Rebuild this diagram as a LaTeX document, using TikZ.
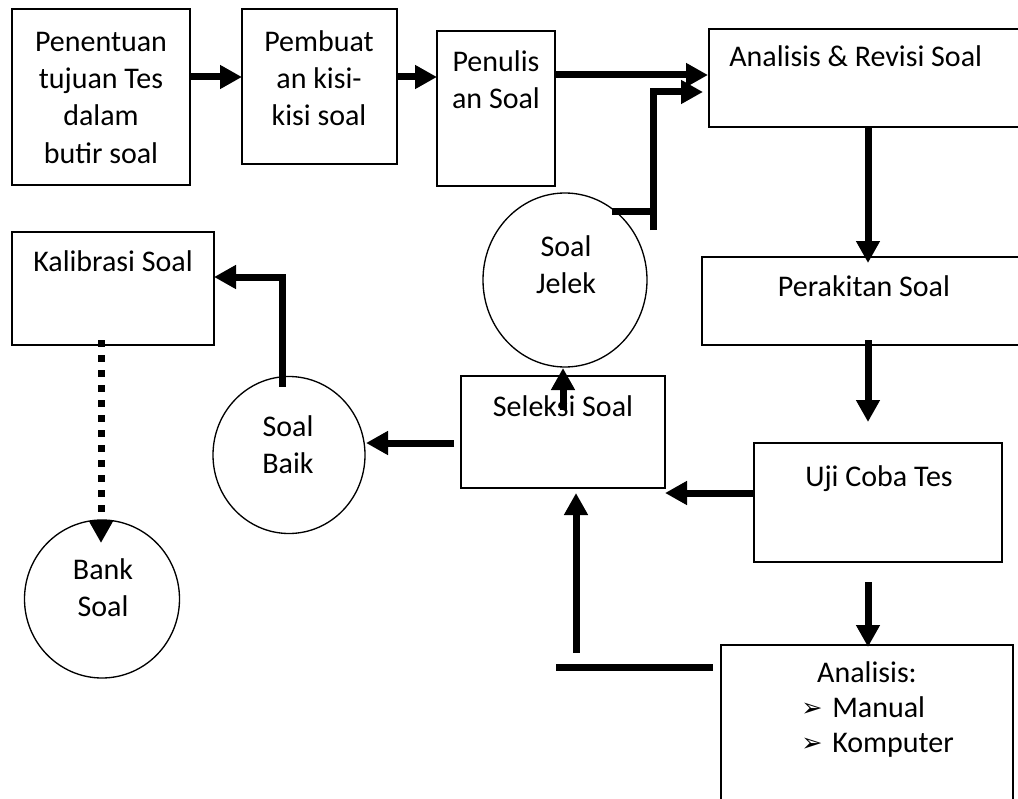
\documentclass[tikz,border=0pt]{standalone}
\usepackage{fontspec}
\setmainfont{Carlito}
\newfontfamily\dejavu{DejaVu Sans}
\usetikzlibrary{arrows.meta,calc,shapes.geometric}
\tikzset{
  box/.style={draw, line width=1pt, rectangle, inner sep=0pt, outer sep=0pt},
  oval/.style={draw, line width=1pt, ellipse, inner sep=0pt, outer sep=0pt},
  txt/.style={font=\fontsize{22.5}{28}\selectfont, align=center, inner sep=0pt, anchor=north},
  txtb/.style={font=\fontsize{22.5}{28}\selectfont, inner sep=0pt, anchor=base},
  bul/.style={font=\dejavu\fontsize{19}{20}\selectfont, inner sep=0pt, anchor=base west},
  arr/.style={line width=5.25pt, -{Triangle[length=16.5pt,width=17pt]}},
  thk/.style={line width=5.25pt},
  dotarr/.style={line width=5.25pt, dash pattern=on 5.25pt off 6pt, -{Triangle[length=16.5pt,width=17pt]}}
}
\begin{document}
\begin{tikzpicture}[x=0.75pt,y=-0.75pt]
\useasboundingbox (0,0) rectangle (1018,799);
% boxes
\node[box, minimum width=133.5pt, minimum height=132pt] (b1) at (101,97) {};
\node[box, minimum width=116.25pt, minimum height=116.25pt] (b2) at (319.5,86.5) {};
\node[box, minimum width=88.5pt, minimum height=116.25pt] (b3) at (496,108.5) {};
\node[box, minimum width=234.75pt, minimum height=73.5pt] (b4) at (865.5,78) {};
\node[box, minimum width=240pt, minimum height=66pt] (per) at (862,301) {};
\node[box, minimum width=186pt, minimum height=89.25pt] (uji) at (878,502.5) {};
\node[box, minimum width=219pt, minimum height=125.25pt] (ana) at (867,728.5) {};
\node[box, minimum width=153pt, minimum height=84pt] (sel) at (563,432) {};
\node[box, minimum width=151.5pt, minimum height=84.75pt] (kal) at (113,288.5) {};
\node[oval, minimum width=123pt, minimum height=130.5pt] (jel) at (565,280) {};
\node[oval, minimum width=114pt, minimum height=117.75pt] (baik) at (289,455) {};
\node[oval, minimum width=116.25pt, minimum height=118.5pt] (bank) at (102,599) {};
% texts
\node[txt] (t1) at (101,24.9) {\strut Penentuan\\tujuan Tes\\dalam\\butir soal};
\node[txt] (t2) at (319,24.9) {\strut Pembuat\\an kisi-\\kisi soal};
\node[txt] (t3) at (496,44.9) {\strut Penulis\\an Soal};
\node[txtb, anchor=base west] (t4) at (729,67) {Analisis \& Revisi Soal};
\node[txtb] (t5) at (864,296) {Perakitan Soal};
\node[txtb] (t6) at (879,486) {Uji Coba Tes};
\node[txtb] (t7) at (563,416) {Seleksi Soal};
\node[txtb] (t8) at (113,271) {Kalibrasi Soal};
\node[txt] (t9) at (566,229.9) {\strut Soal\\Jelek};
\node[txt] (t10) at (288,409.9) {\strut Soal\\Baik};
\node[txt] (t11) at (103,552.9) {\strut Bank\\Soal};
\node[txtb] (t12) at (867,682) {Analisis:};
\node[bul] (k1) at (801,716) {➢};
\node[txtb, anchor=base west] (t13) at (832,717) {Manual};
\node[bul] (k2) at (801,751) {➢};
\node[txtb, anchor=base west] (t14) at (832,752) {Komputer};
% connectors
\draw[arr] ($(b1.east)+(0,-20)$) -- ($(b2.west)+(0,-9.5)$);
\draw[arr] ($(b2.east)+(0,-9.5)$) -- ($(b3.west)+(0,-31.5)$);
\draw[arr] ($(b3.east)+(0,-33.5)$) -- ($(b4.west)+(-1,-3)$);
\coordinate (jt) at (653,230);
\draw[thk] ($(jel.center)+(47,-69)$) -- (656.5,211);
\draw[arr] (jt) -- (653,92) -- ($(b4.west)+(-6,14)$);
\draw[arr] ($(b4.south)+(2.5,0)$) -- ($(per.north)+(6,6)$);
\draw[arr] ($(per.south)+(6,-5)$) -- ($(uji.north)+(-10,-21)$);
\draw[arr] ($(uji.south)+(-10,20)$) -- ($(ana.north)+(1,2)$);
\draw[arr] ($(uji.west)+(0,-9.5)$) -- ($(sel.south east)+(0,5)$);
\draw[thk] ($(ana.west)+(-8,-61.5)$) -- ($(ana.west)+(-165,-61.5)$);
\draw[arr] ($(ana.west)+(-145,-75.5)$) -- ($(sel.south)+(13,5)$);
\draw[arr] ($(sel.north)+(0,34)$) -- ($(jel.south)+(-2,1)$);
\draw[arr] ($(sel.west)+(-7,11)$) -- ($(baik.east)+(1,-12)$);
\draw[arr] ($(baik.north)+(-7,10)$) |- ($(kal.east)+(0,-11.5)$);
\draw[dotarr] ($(kal.south)+(-12,-5)$) -- ($(bank.north)+(-1,23)$);
\end{tikzpicture}
\end{document}
